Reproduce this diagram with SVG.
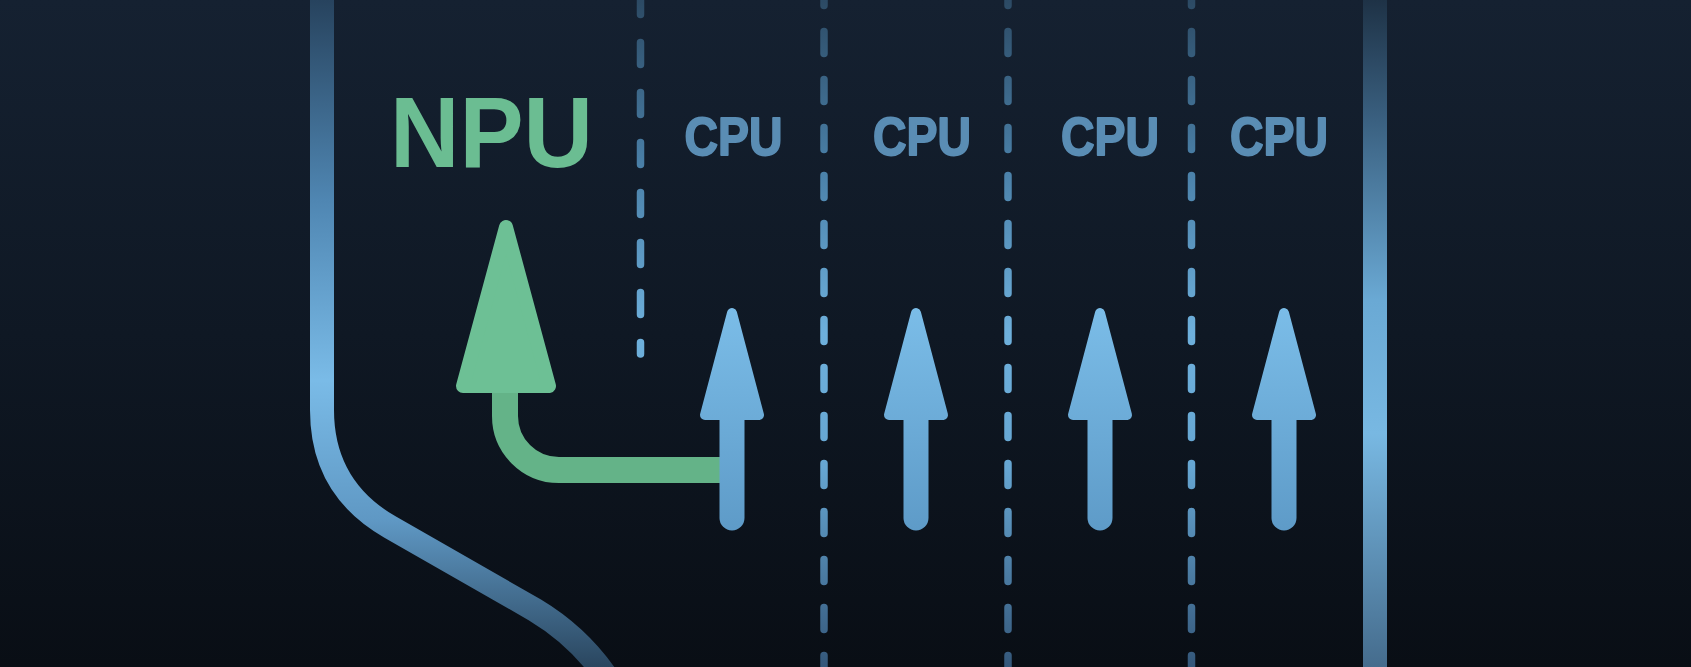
<svg xmlns="http://www.w3.org/2000/svg" width="1691" height="667" viewBox="0 0 1691 667">
  <defs>
    <linearGradient id="bg" x1="0" y1="0" x2="0" y2="1">
      <stop offset="0" stop-color="#152131"/>
      <stop offset="0.5" stop-color="#0f1824"/>
      <stop offset="1" stop-color="#090e15"/>
    </linearGradient>
    <linearGradient id="leftLine" gradientUnits="userSpaceOnUse" x1="0" y1="0" x2="0" y2="667">
      <stop offset="0" stop-color="#27435e"/>
      <stop offset="0.3" stop-color="#4f86b2"/>
      <stop offset="0.57" stop-color="#7abbe7"/>
      <stop offset="0.78" stop-color="#5f98c4"/>
      <stop offset="1" stop-color="#2a465f"/>
    </linearGradient>
    <linearGradient id="rightLine" gradientUnits="userSpaceOnUse" x1="0" y1="0" x2="0" y2="667">
      <stop offset="0" stop-color="#1e3246"/>
      <stop offset="0.18" stop-color="#3a6080"/>
      <stop offset="0.45" stop-color="#6aa9d4"/>
      <stop offset="0.65" stop-color="#78b8e2"/>
      <stop offset="1" stop-color="#456c8d"/>
    </linearGradient>
    <linearGradient id="dash" gradientUnits="userSpaceOnUse" x1="0" y1="0" x2="0" y2="667">
      <stop offset="0" stop-color="#2c4a64"/>
      <stop offset="0.25" stop-color="#4a80a8"/>
      <stop offset="0.5" stop-color="#6eb0dc"/>
      <stop offset="0.7" stop-color="#66a6d2"/>
      <stop offset="1" stop-color="#34577a"/>
    </linearGradient>
    <linearGradient id="blueStem" gradientUnits="userSpaceOnUse" x1="0" y1="300" x2="0" y2="530">
      <stop offset="0" stop-color="#7cbee9"/>
      <stop offset="1" stop-color="#5e9bc8"/>
    </linearGradient>
    <style>
      .lane { fill: none; stroke-width: 24; stroke-linecap: butt; }
      .dash { fill: none; stroke: url(#dash); stroke-width: 7.5; stroke-linecap: round; }
      .cpu { fill: #5a8db4; stroke: #5a8db4; stroke-width: 1.8; stroke-linejoin: round; text-anchor: middle; }
      .npu { fill: #6bbd92; }
      .stem { fill: none; stroke: url(#blueStem); stroke-width: 25; stroke-linecap: round; }
      .head { fill: url(#blueStem); stroke: url(#blueStem); stroke-width: 10; stroke-linejoin: round; }
      .ghead { fill: #6dc095; stroke: #6dc095; stroke-width: 14; stroke-linejoin: round; }
      .gstem { fill: none; stroke: #64b388; stroke-width: 26; }
    </style>
  </defs>

  <rect id="background" x="0" y="0" width="1691" height="667" fill="url(#bg)"/>

  <g id="boundaries">
    <path class="lane" stroke="url(#leftLine)" d="M 322 -10 L 322 410 Q 322 488 390 527 L 535 610 Q 585 640 615 690"/>
    <path class="lane" stroke="url(#rightLine)" d="M 1375 -10 L 1375 680"/>
  </g>

  <g id="lane-dividers">
    <path class="dash" stroke-dasharray="22 28" d="M 640.5 -7.5 L 640.5 354"/>
    <path class="dash" stroke-dasharray="22 26" d="M 824 -16.5 L 824 690"/>
    <path class="dash" stroke-dasharray="22 26" d="M 1008 -16.5 L 1008 690"/>
    <path class="dash" stroke-dasharray="22 26" d="M 1191.5 -16.5 L 1191.5 690"/>
  </g>

  <g id="npu">
    <text class="npu" x="390" y="167" font-family="Liberation Sans, Arial, sans-serif" font-weight="700" font-size="101" textLength="203" lengthAdjust="spacingAndGlyphs">NPU</text>
  </g>
  <g id="cpu1"><text class="cpu" x="733.5" y="155" font-family="Liberation Sans, Arial, sans-serif" font-weight="700" font-size="53" textLength="98" lengthAdjust="spacingAndGlyphs">CPU</text></g>
  <g id="cpu2"><text class="cpu" x="922" y="155" font-family="Liberation Sans, Arial, sans-serif" font-weight="700" font-size="53" textLength="98" lengthAdjust="spacingAndGlyphs">CPU</text></g>
  <g id="cpu3"><text class="cpu" x="1110" y="155" font-family="Liberation Sans, Arial, sans-serif" font-weight="700" font-size="53" textLength="98" lengthAdjust="spacingAndGlyphs">CPU</text></g>
  <g id="cpu4"><text class="cpu" x="1279" y="155" font-family="Liberation Sans, Arial, sans-serif" font-weight="700" font-size="53" textLength="98" lengthAdjust="spacingAndGlyphs">CPU</text></g>

  <g id="connectors">
    <path class="gstem" d="M 505 390 L 505 416 A 54 54 0 0 0 559 470 L 725 470"/>
    <path class="ghead" d="M 506 227 L 549 386 L 463 386 Z"/>

    <path class="stem" d="M 732 418 L 732 518"/>
    <path class="head" d="M 732 313 L 759 415 L 705 415 Z"/>

    <path class="stem" d="M 916 418 L 916 518"/>
    <path class="head" d="M 916 313 L 943 415 L 889 415 Z"/>

    <path class="stem" d="M 1100 418 L 1100 518"/>
    <path class="head" d="M 1100 313 L 1127 415 L 1073 415 Z"/>

    <path class="stem" d="M 1284 418 L 1284 518"/>
    <path class="head" d="M 1284 313 L 1311 415 L 1257 415 Z"/>
  </g>
</svg>
